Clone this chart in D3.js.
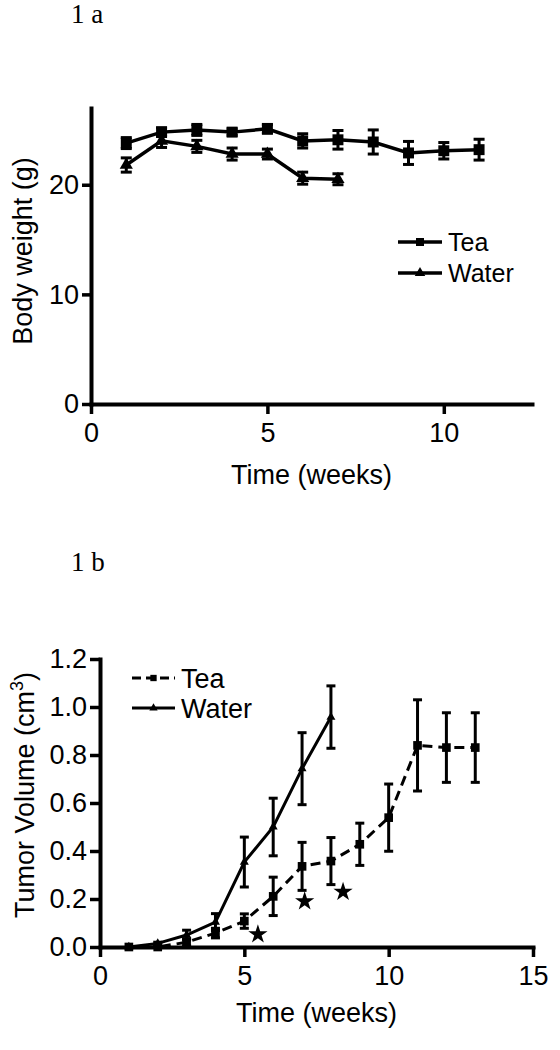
<!DOCTYPE html>
<html><head><meta charset="utf-8">
<script src="https://cdn.jsdelivr.net/npm/d3@7"></script>
<style>
body{margin:0;background:#fff}
svg text{font-family:"Liberation Sans",Arial,sans-serif;fill:#000}
</style>
</head><body>
<svg id="c" width="560" height="1050"></svg>
<script>
// ---------- Figure 1a: body weight ----------
const weeksTeaA   = [1,2,3,4,5,6,7,8,9,10,11];
const teaA        = [23.8,24.8,25.0,24.8,25.1,24.0,24.1,23.9,22.9,23.1,23.2];
const teaAErr     = [0.5,0.4,0.5,0.3,0.4,0.65,0.85,1.1,1.05,0.75,0.95];
const weeksWaterA = [1,2,3,4,5,6,7];
const waterA      = [21.8,24.0,23.5,22.8,22.8,20.6,20.5];
const waterAErr   = [0.65,0.6,0.55,0.55,0.45,0.55,0.5];
const ticksAX     = [0,5,10];
const ticksAY     = [0,10,20];

// ---------- Figure 1b: tumor volume ----------
const weeksTeaB   = [1,2,3,4,5,6,7,8,9,10,11,12,13];
const teaB        = [0,0,0.02,0.058,0.108,0.211,0.336,0.358,0.428,0.539,0.84,0.831,0.831];
const teaBErr     = [0,0,0.015,0.02,0.03,0.08,0.1,0.098,0.088,0.14,0.19,0.145,0.145];
const weeksWaterB = [1,2,3,4,5,6,7,8];
const waterB      = [0,0.015,0.05,0.104,0.354,0.50,0.743,0.958];
const waterBErr   = [0,0.005,0.02,0.035,0.104,0.12,0.15,0.13];
const starWeeks   = [5.47,7.09,8.42];
const starVals    = [0.053,0.19,0.23];
const ticksBX     = [0,5,10,15];
const ticksBY     = [0,0.2,0.4,0.6,0.8,1.0,1.2];

const svg = d3.select("#c");

function styleAxis(g, fs){
  g.select(".domain").attr("stroke","#000").attr("stroke-width",4).attr("stroke-linecap","square");
  g.selectAll(".tick line").attr("stroke","#000").attr("stroke-width",3.5);
  g.selectAll(".tick text").attr("font-size",fs).attr("fill","#000")
    .style("font-family","'Liberation Sans',Arial,sans-serif");
}

function series(g, x, y, xs, vs, es, opt){
  const pts = xs.map((w,i)=>({w, v:vs[i], e:es[i]}));
  const line = d3.line().x(d=>x(d.w)).y(d=>y(d.v));
  g.append("path").datum(pts).attr("d",line).attr("fill","none")
    .attr("stroke","#000").attr("stroke-width",opt.lw)
    .attr("stroke-dasharray",opt.dash||null);
  const eb = g.append("g").attr("stroke","#000").attr("stroke-width",opt.ew);
  pts.filter(d=>d.e>0).forEach(d=>{
    const cx = x(d.w), y0 = y(d.v-d.e), y1 = y(d.v+d.e);
    eb.append("line").attr("x1",cx).attr("x2",cx).attr("y1",y0).attr("y2",y1);
    eb.append("line").attr("x1",cx-opt.cap).attr("x2",cx+opt.cap).attr("y1",y0).attr("y2",y0);
    eb.append("line").attr("x1",cx-opt.cap).attr("x2",cx+opt.cap).attr("y1",y1).attr("y2",y1);
  });
  g.append("g").selectAll("path").data(pts).join("path")
    .attr("transform",d=>`translate(${x(d.w)},${y(d.v)})`)
    .attr("d",d3.symbol(opt.sym,opt.size)()).attr("fill","#000");
}

function legendItem(g, x0, x1, yy, label, sym, size, dash, lw, fs){
  g.append("line").attr("x1",x0).attr("x2",x1).attr("y1",yy).attr("y2",yy)
    .attr("stroke","#000").attr("stroke-width",lw).attr("stroke-dasharray",dash||null);
  g.append("path").attr("transform",`translate(${(x0+x1)/2},${yy})`)
    .attr("d",d3.symbol(sym,size)()).attr("fill","#000");
  g.append("text").attr("x",x1+6).attr("y",yy).attr("dy","0.36em")
    .attr("font-size",fs).text(label);
}

// ================= Chart a =================
{
  const x = d3.scaleLinear().domain([0,12.5]).range([91,532]);
  const y = d3.scaleLinear().domain([0,27]).range([404,108]);
  const g = svg.append("g");
  svg.append("text").attr("x",71).attr("y",23).attr("font-size",27)
    .style("font-family","'Liberation Serif','Times New Roman',serif").text("1 a");

  const gx = g.append("g").attr("transform","translate(0,404)")
    .call(d3.axisBottom(x).tickValues(ticksAX).tickSize(10).tickPadding(9).tickSizeOuter(0));
  styleAxis(gx, 27);
  const gy = g.append("g").attr("transform","translate(91,0)")
    .call(d3.axisLeft(y).tickValues(ticksAY).tickSize(9).tickPadding(3).tickSizeOuter(0));
  styleAxis(gy, 27);

  series(g, x, y, weeksTeaA, teaA, teaAErr, {lw:3.5, ew:3, cap:5.5, sym:d3.symbolSquare, size:120});
  series(g, x, y, weeksWaterA, waterA, waterAErr, {lw:3.5, ew:3, cap:5.5, sym:d3.symbolTriangle, size:75});

  legendItem(g, 398, 442, 242, "Tea", d3.symbolSquare, 64, null, 3.5, 25);
  legendItem(g, 398, 442, 273, "Water", d3.symbolTriangle, 48, null, 3.5, 25);

  g.append("text").attr("x",(x.range()[0]+x.range()[1])/2).attr("y",484)
    .attr("text-anchor","middle").attr("font-size",27).text("Time (weeks)");
  g.append("text").attr("transform","translate(32,251) rotate(-90)")
    .attr("text-anchor","middle").attr("font-size",27).text("Body weight (g)");
}

// ================= Chart b =================
{
  const x = d3.scaleLinear().domain([0,15]).range([100,533]);
  const y = d3.scaleLinear().domain([0,1.2]).range([947,659]);
  const g = svg.append("g");
  svg.append("text").attr("x",71).attr("y",571).attr("font-size",27)
    .style("font-family","'Liberation Serif','Times New Roman',serif").text("1 b");

  const gx = g.append("g").attr("transform","translate(0,947)")
    .call(d3.axisBottom(x).tickValues(ticksBX).tickSize(10).tickPadding(9).tickSizeOuter(0));
  styleAxis(gx, 27);
  const gy = g.append("g").attr("transform","translate(100,0)")
    .call(d3.axisLeft(y).tickValues(ticksBY).tickFormat(d3.format(".1f"))
      .tickSize(10).tickPadding(3).tickSizeOuter(0));
  styleAxis(gy, 27);

  series(g, x, y, weeksTeaB, teaB, teaBErr, {lw:3, ew:3, cap:4.5, sym:d3.symbolSquare, size:75, dash:"10,6"});
  series(g, x, y, weeksWaterB, waterB, waterBErr, {lw:3, ew:3, cap:4.5, sym:d3.symbolTriangle, size:35});

  g.append("g").selectAll("path").data(starWeeks).join("path")
    .attr("transform",(d,i)=>`translate(${x(d)},${y(starVals[i])})`)
    .attr("d",d3.symbol(d3.symbolStar,115)()).attr("fill","#000");

  legendItem(g, 132, 175, 678, "Tea", d3.symbolSquare, 40, "9,5", 3, 27);
  legendItem(g, 132, 175, 708, "Water", d3.symbolTriangle, 30, null, 3, 27);

  g.append("text").attr("x",(x.range()[0]+x.range()[1])/2).attr("y",1022)
    .attr("text-anchor","middle").attr("font-size",27).text("Time (weeks)");
  const t = g.append("text").attr("transform","translate(34,795) rotate(-90)")
    .attr("text-anchor","middle").attr("font-size",27);
  t.append("tspan").text("Tumor Volume (cm");
  t.append("tspan").attr("dy",-11).attr("font-size",18).text("3");
  t.append("tspan").attr("dy",11).text(")");
}
</script>
</body></html>
